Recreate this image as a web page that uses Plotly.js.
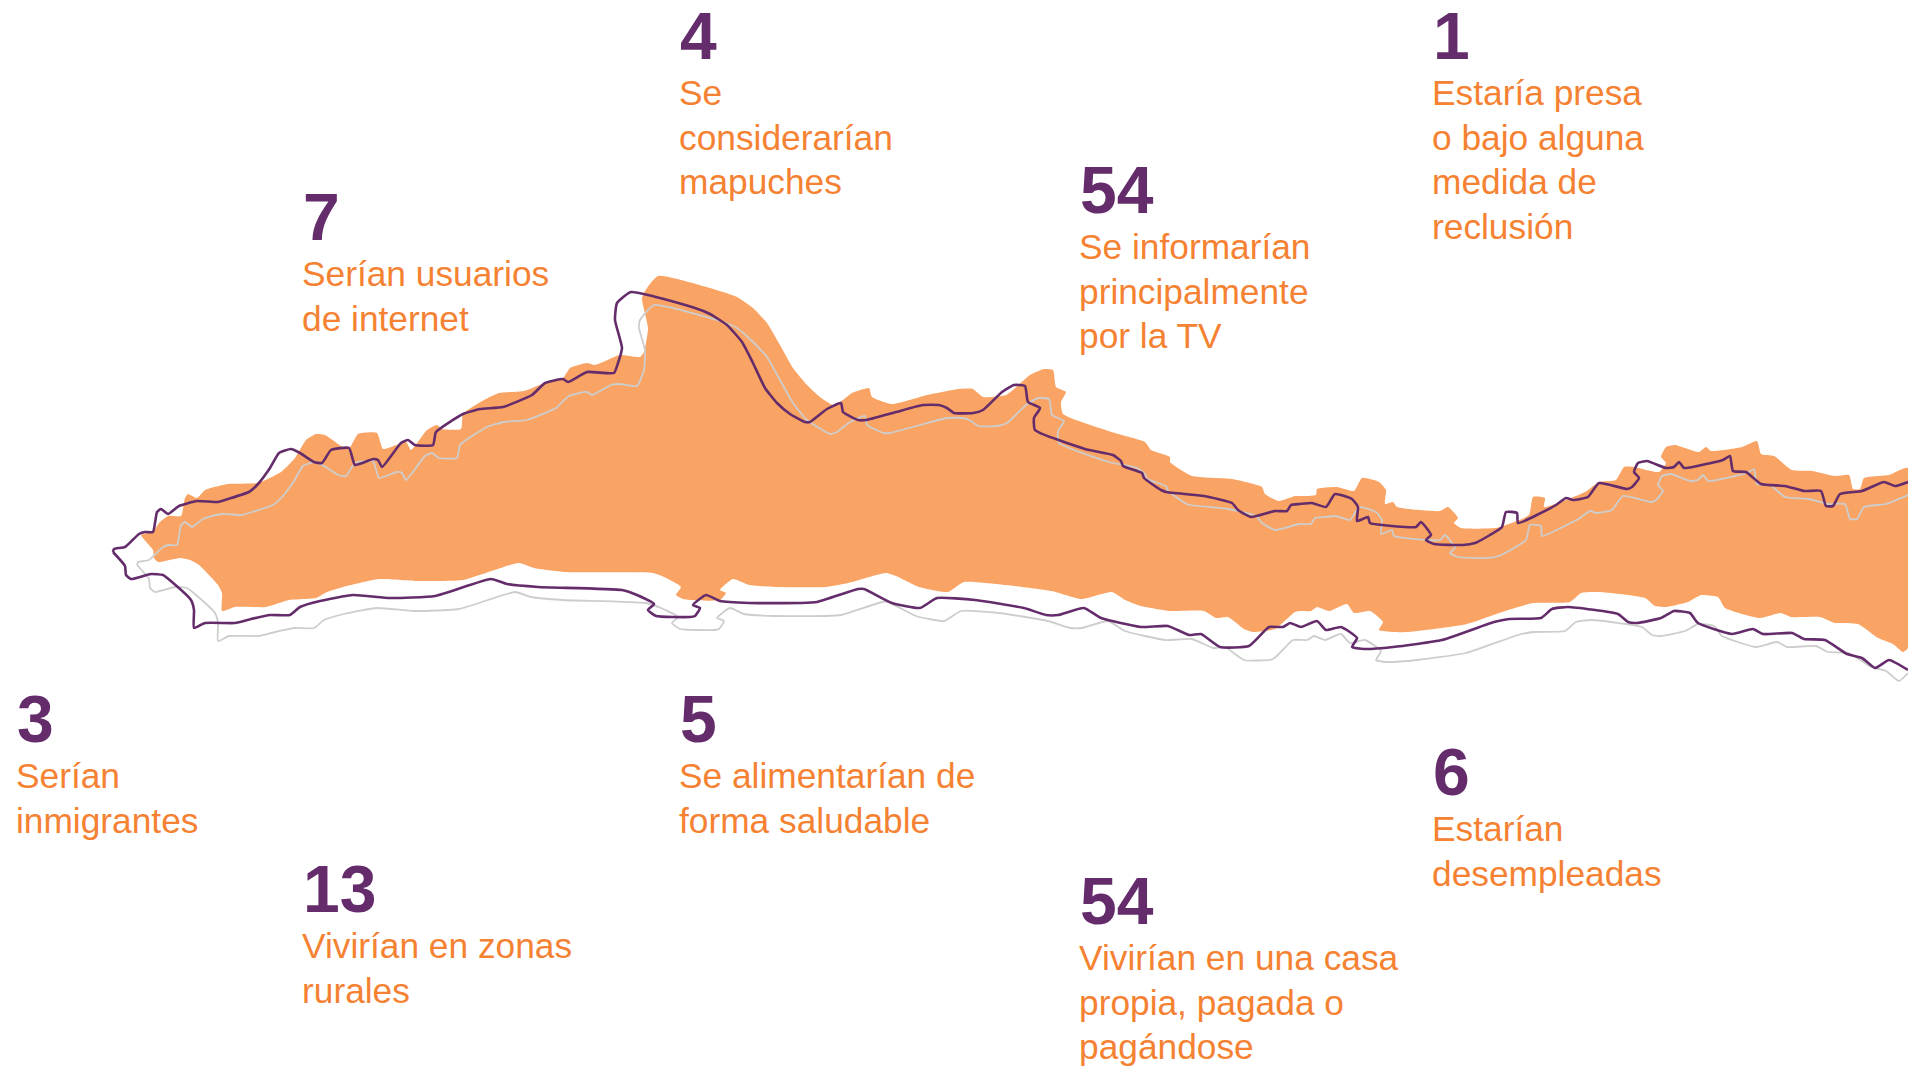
<!DOCTYPE html>
<html><head><meta charset="utf-8">
<script src="https://cdn.plot.ly/plotly-3.0.1.min.js"></script>
<style>html,body{margin:0;padding:0;background:#fff;overflow:hidden}#c{width:1908px;height:1066px}</style>
</head><body><div id="c"></div>
<script>
const shapeX=[141,153,154,158,180,190,199,218,222,222,235,266,289,316,327,343,379,419,463,519,534,565,653,664,681,676,683,690,720,726,720,733,749,777,826,848,886,896,919,948,964,1006,1052,1081,1112,1125,1141,1170,1204,1216,1228,1244,1253,1275,1295,1300,1311,1317,1329,1347,1354,1370,1383,1379,1393,1409,1467,1502,1533,1570,1581,1599,1645,1655,1666,1688,1701,1718,1725,1760,1781,1791,1820,1835,1858,1878,1893,1903,1908,
1908,1889,1864,1860,1853,1849,1835,1812,1792,1774,1761,1757,1742,1711,1706,1699,1675,1666,1661,1666,1659,1634,1624,1616,1599,1585,1544,1545,1533,1529,1506,1496,1461,1454,1458,1448,1440,1397,1393,1385,1386,1379,1362,1354,1337,1317,1316,1300,1295,1279,1265,1262,1232,1192,1170,1170,1151,1145,1115,1063,1061,1066,1056,1053,1044,1030,1006,983,973,959,927,892,872,869,852,843,833,820,807,793,780,767,753,737,723,658,647,642,648,644,640,620,595,587,570,563,545,524,499,484,463,461,442,437,427,411,406,383,377,358,350,343,325,316,306,295,281,258,228,205,197,188,185,181,168,159,153,141];
const shapeY=[535,550,558,562,558,560,565,585,593,611,607,607,600,598,592,587,579,581,580,563,568,572,573,577,587,595,599,600,600,593,590,579,585,587,587,583,573,576,587,592,582,585,591,599,592,600,606,611,611,618,617,629,632,629,612,611,611,607,611,604,613,611,622,630,632,632,624,612,603,602,593,592,598,606,607,602,595,597,608,618,613,617,617,623,624,638,644,652,648,
468,475,478,489,489,475,476,471,470,456,454,441,447,451,447,452,445,447,457,463,472,467,467,480,482,492,507,498,497,515,525,528,528,523,518,507,511,507,502,504,490,482,478,491,487,489,495,496,496,501,494,487,479,476,462,457,450,442,433,414,402,392,387,370,369,375,395,397,389,389,395,404,397,388,393,400,405,397,385,368,345,323,308,297,292,276,288,298,328,352,357,355,365,363,368,378,383,391,393,400,414,429,429,425,430,450,442,449,433,434,447,447,435,434,440,458,472,483,484,490,498,494,498,516,516,523,532,535];

const coastTopX=[113,114,125,139,145,153,157,161,168,179,197,218,228,249,258,270,279,291,300,314,322,331,349,355,373,378,382,401,408,415,433,436,463,480,503,532,545,563,568,587,614,618,622,615,617,631,695,710,727,742,753,765,777,790,805,810,827,841,843,858,866,896,923,939,947,954,973,983,1002,1014,1025,1028,1040,1034,1035,1085,1113,1121,1123,1142,1144,1161,1166,1204,1232,1238,1251,1275,1287,1291,1300,1312,1326,1335,1352,1358,1357,1368,1370,1405,1416,1421,1431,1426,1434,1463,1475,1490,1502,1506,1517,1518,1556,1566,1573,1588,1599,1627,1632,1639,1634,1638,1647,1666,1674,1679,1684,1711,1723,1730,1733,1746,1761,1785,1804,1821,1826,1833,1840,1862,1884,1895,1908];
const coastTopY=[552,549,547,534,532,532,512,509,514,506,501,502,499,492,484,468,453,449,453,462,463,450,448,465,459,460,467,443,440,445,445,432,414,409,407,395,383,379,382,372,373,363,348,320,303,292,308,314,325,342,363,388,403,414,422,422,409,403,412,420,420,412,405,405,408,413,413,410,392,385,386,402,408,418,430,449,455,461,466,473,478,490,492,496,503,510,517,511,511,505,504,503,507,494,499,507,521,517,523,527,527,522,535,540,544,545,543,535,527,512,513,523,505,498,500,497,483,489,487,478,472,463,461,468,467,462,468,463,460,456,471,472,484,486,491,491,506,506,494,491,482,486,482];
const coastLowX=[113,125,126,131,151,163,172,191,194,194,205,235,251,270,290,300,320,353,390,435,491,507,538,622,637,654,648,656,690,695,700,693,706,720,749,801,817,858,864,892,920,937,975,1024,1046,1058,1084,1101,1141,1168,1189,1201,1220,1249,1269,1283,1290,1301,1317,1326,1341,1357,1352,1364,1393,1442,1494,1509,1541,1552,1568,1618,1628,1637,1661,1674,1690,1698,1732,1753,1763,1792,1804,1825,1847,1862,1875,1889,1908];
const coastLowY=[552,566,575,579,574,575,582,600,610,628,623,623,619,615,615,607,601,595,598,596,579,584,587,590,595,604,610,616,617,616,608,605,595,601,603,603,602,589,589,603,608,598,600,608,615,615,608,618,627,626,635,634,647,646,627,627,623,627,621,630,627,638,647,649,647,640,622,619,618,609,607,614,622,623,618,611,613,623,634,629,634,633,639,640,654,658,668,660,670];

const greyTopX=[137,138,149,163,169,177,181,185,192,203,221,242,252,273,282,294,303,315,324,338,346,355,373,379,397,402,406,425,432,439,457,460,487,504,527,556,569,587,592,611,620,637,644,645,639,640,654,720,737,753,767,780,793,807,830,837,850,865,867,884,890,920,947,963,971,978,997,1007,1026,1038,1049,1052,1064,1058,1059,1109,1137,1145,1147,1166,1168,1185,1190,1228,1256,1262,1275,1299,1311,1315,1324,1336,1350,1359,1376,1382,1381,1392,1394,1429,1440,1445,1455,1450,1458,1487,1499,1514,1526,1530,1541,1542,1580,1590,1597,1612,1623,1651,1656,1663,1658,1662,1671,1690,1698,1703,1708,1735,1747,1754,1757,1770,1785,1809,1828,1845,1850,1857,1864,1886,1908];
const greyTopY=[565,562,560,547,545,545,525,522,527,519,514,515,512,505,497,481,466,462,466,475,476,463,461,478,472,473,480,456,453,458,458,445,427,422,420,408,396,392,395,385,384,386,370,350,328,320,305,321,328,342,357,380,403,420,434,432,422,416,425,433,433,425,418,418,421,426,426,423,405,398,399,415,421,431,443,462,468,474,479,486,491,503,505,509,516,523,530,524,524,518,517,516,520,507,512,520,534,530,536,540,540,535,548,553,557,558,556,548,540,525,526,536,518,511,513,510,496,502,500,491,485,476,474,481,480,475,481,476,473,469,484,485,497,499,504,504,519,519,507,504,495];
const greyLowX=[137,149,150,155,175,187,196,215,218,218,229,259,275,294,314,324,344,377,414,459,515,531,562,646,661,678,672,680,714,719,724,717,730,744,773,825,841,882,888,916,944,961,999,1048,1070,1082,1108,1125,1165,1192,1213,1225,1244,1273,1293,1307,1314,1325,1341,1350,1365,1381,1376,1388,1417,1466,1518,1533,1565,1576,1592,1642,1652,1661,1685,1698,1714,1722,1756,1777,1787,1816,1828,1849,1871,1886,1899,1908];
const greyLowY=[565,579,588,592,587,588,595,613,623,641,636,636,632,628,628,620,614,608,611,609,592,597,600,603,608,617,623,629,630,629,621,618,608,614,616,616,615,602,602,616,621,611,613,621,628,628,621,631,640,639,648,647,660,659,640,640,636,640,634,643,640,651,660,662,660,653,635,632,631,622,620,627,635,636,631,624,626,636,647,642,647,646,652,653,667,671,681,673];

const counts=['4','1','54','7','3','5','13','6','54'];
const captions=[
 ['Se','considerarían','mapuches'],
 ['Estaría presa','o bajo alguna','medida de','reclusión'],
 ['Se informarían','principalmente','por la TV'],
 ['Serían usuarios','de internet'],
 ['Serían','inmigrantes'],
 ['Se alimentarían de','forma saludable'],
 ['Vivirían en zonas','rurales'],
 ['Estarían','desempleadas'],
 ['Vivirían en una casa','propia, pagada o','pagándose']
];

// text block placement (page pixels: left edge, baseline of the number)
const blockLeft=[679,1432,1079,302,16,679,302,1432,1079];
const blockBase=[59,59,213,240,742,742,912,795,924];
const NUM=66, CAP=35.3, PITCH=44.5, GAP=46;
const PURPLE='#642C6B', ORANGE='#F58232', FILL='#F9A464', GREY='#CDCDCD';

const anns=[];
function put(txt,x,base,size,color,bold){
  anns.push({text:bold?'<b>'+txt+'</b>':txt,x:x,y:base,yshift:-size*0.212,xref:'x',yref:'y',xanchor:'left',yanchor:'bottom',
    showarrow:false,borderpad:0,borderwidth:0,align:'left',
    font:{family:'"Liberation Sans",Arial,sans-serif',size:size,color:color}});
}
counts.forEach((n,i)=>{
  put(n,blockLeft[i]+1,blockBase[i],NUM,PURPLE,true);
  captions[i].forEach((l,j)=>put(l,blockLeft[i],blockBase[i]+GAP+j*PITCH,CAP,ORANGE,false));
});
const line=(x,y,c,w)=>({x:x,y:y,mode:'lines',type:'scatter',hoverinfo:'skip',line:{color:c,width:w,shape:'spline',smoothing:0.45}});
Plotly.newPlot('c',[
 {x:shapeX,y:shapeY,mode:'lines',type:'scatter',fill:'toself',fillcolor:FILL,line:{width:0,color:FILL,shape:'spline',smoothing:0.5},hoverinfo:'skip'},
 line(greyTopX,greyTopY,GREY,1.8),line(greyLowX,greyLowY,GREY,1.8),
 line(coastTopX,coastTopY,PURPLE,2.6),line(coastLowX,coastLowY,PURPLE,2.6)
],{
 width:1908,height:1066,margin:{l:0,r:0,t:0,b:0},showlegend:false,
 paper_bgcolor:'#fff',plot_bgcolor:'#fff',
 xaxis:{range:[0,1908],visible:false,fixedrange:true},
 yaxis:{range:[1066,0],visible:false,fixedrange:true},
 annotations:anns
},{displayModeBar:false,staticPlot:true});
</script></body></html>
